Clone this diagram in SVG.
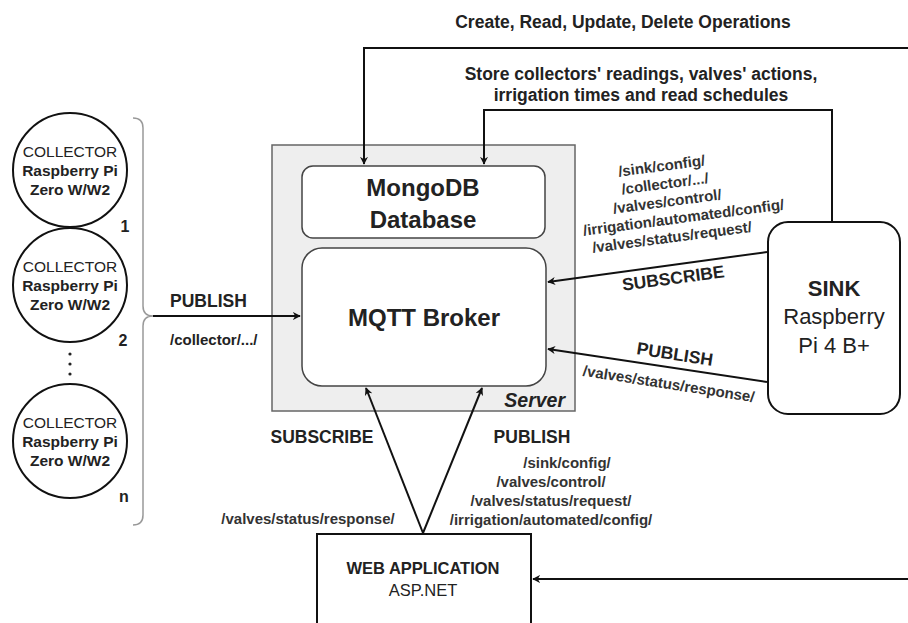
<svg xmlns="http://www.w3.org/2000/svg" width="908" height="623" viewBox="0 0 908 623">
<defs>
<marker id="ah" viewBox="0 0 10 10" refX="9" refY="5" markerWidth="8" markerHeight="8" markerUnits="userSpaceOnUse" orient="auto">
<path d="M0,0 L10,5 L0,10 L3,5 Z" fill="#111"/>
</marker>
<style>
text{font-family:"Liberation Sans",Arial,sans-serif;fill:#222}
.b{font-weight:bold}
.t{font-size:15px;font-weight:bold;fill:#333;text-anchor:middle}
.lb{font-size:17.5px;font-weight:bold;fill:#222}
.c{fill:#fff;stroke:#111;stroke-width:2}
.ct{font-size:15.5px;text-anchor:middle}
.conn{fill:none;stroke:#111;stroke-width:2;marker-end:url(#ah)}
</style>
</defs>
<rect width="908" height="623" fill="#fff"/>

<g id="server">
<rect x="272" y="145" width="303" height="266" fill="#eeeeee" stroke="#666" stroke-width="1.5"/>
<text x="565" y="407" font-size="19.5" class="b" font-style="italic" text-anchor="end">Server</text>
</g>
<g id="mongodb">
<rect x="302" y="166" width="243" height="72" rx="11" fill="#fff" stroke="#444" stroke-width="1.5"/>
<text x="423" y="196" font-size="24" class="b" text-anchor="middle">MongoDB</text>
<text x="423" y="228" font-size="24" class="b" text-anchor="middle">Database</text>
</g>
<g id="mqtt">
<rect x="302" y="248" width="244" height="138" rx="20" fill="#fff" stroke="#444" stroke-width="1.5"/>
<text x="424" y="326" font-size="24" class="b" text-anchor="middle">MQTT Broker</text>
</g>

<g id="collector1">
<circle cx="70" cy="170" r="57" class="c"/>
<text x="70" y="157" class="ct" fill="#333">COLLECTOR</text>
<text x="70" y="176" class="ct b">Raspberry Pi</text>
<text x="70" y="195" class="ct b">Zero W/W2</text>
<text x="125" y="232" font-size="16" class="b" text-anchor="middle">1</text>
</g>
<g id="collector2">
<circle cx="70" cy="285" r="57" class="c"/>
<text x="70" y="272" class="ct" fill="#333">COLLECTOR</text>
<text x="70" y="291" class="ct b">Raspberry Pi</text>
<text x="70" y="310" class="ct b">Zero W/W2</text>
<text x="123" y="346" font-size="16" class="b" text-anchor="middle">2</text>
</g>
<g id="dots" fill="#222">
<circle cx="70" cy="354" r="1.6"/>
<circle cx="70" cy="364" r="1.6"/>
<circle cx="70" cy="374" r="1.6"/>
</g>
<g id="collectorn">
<circle cx="70" cy="441" r="57" class="c"/>
<text x="70" y="428" class="ct" fill="#333">COLLECTOR</text>
<text x="70" y="447" class="ct b">Raspberry Pi</text>
<text x="70" y="466" class="ct b">Zero W/W2</text>
<text x="124" y="502" font-size="16" class="b" text-anchor="middle">n</text>
</g>
<g id="brace">
<path d="M133,118 Q143,118 143,128 L143,306 Q143,316 153,316 Q143,316 143,326 L143,515 Q143,525 133,525" fill="none" stroke="#999" stroke-width="1.5"/>
</g>

<g id="sink">
<rect x="768" y="222" width="132" height="192" rx="20" fill="#fff" stroke="#111" stroke-width="2"/>
<text x="834" y="296" font-size="22" class="b" text-anchor="middle">SINK</text>
<text x="834" y="324" font-size="22" text-anchor="middle" fill="#444">Raspberry</text>
<text x="834" y="353" font-size="22" text-anchor="middle" fill="#444">Pi 4 B+</text>
</g>

<g id="webapp">
<rect x="317" y="534" width="214" height="100" fill="#fff" stroke="#111" stroke-width="2"/>
<text x="423" y="574" font-size="16.5" class="b" text-anchor="middle">WEB APPLICATION</text>
<text x="423" y="596" font-size="16.5" text-anchor="middle" fill="#555">ASP.NET</text>
</g>

<g id="connectors">
<path d="M908,48 L364,48 L364,164" class="conn"/>
<path d="M832,222 L832,110 L484,110 L484,164" class="conn"/>
<path d="M153,316 L300,316" class="conn"/>
<path d="M767,252 L548,282" class="conn"/>
<path d="M767,382 L548,349" class="conn"/>
<path d="M423,533 L366,388" class="conn"/>
<path d="M423,533 L482,388" class="conn"/>
<path d="M908,579 L533,579" class="conn"/>
</g>

<g id="labels">
<text x="623" y="28" font-size="17.5" class="b" text-anchor="middle">Create, Read, Update, Delete Operations</text>
<text x="641" y="80" font-size="17.5" class="b" text-anchor="middle">Store collectors' readings, valves' actions,</text>
<text x="641" y="101" font-size="17.5" class="b" text-anchor="middle">irrigation times and read schedules</text>

<text x="170" y="307" class="lb">PUBLISH</text>
<text x="170" y="345" font-size="15" class="b" fill="#333">/collector/.../</text>

<g transform="translate(680,206) rotate(-7.5)">
<text x="-13" y="-37" class="t">/sink/config/</text>
<text x="-12" y="-19" class="t">/collector/.../</text>
<text x="-12" y="-1" class="t">/valves/control/</text>
<text x="2" y="17" class="t">/irrigation/automated/config/</text>
<text x="-12" y="35" class="t">/valves/status/request/</text>
</g>
<text x="0" y="0" class="lb" text-anchor="middle" transform="translate(674,284) rotate(-7.5)">SUBSCRIBE</text>

<text x="0" y="0" class="lb" text-anchor="middle" transform="translate(674,360) rotate(8.8)">PUBLISH</text>
<text x="0" y="0" class="t" transform="translate(668,389) rotate(8.8)">/valves/status/response/</text>

<text x="322" y="443" class="lb" text-anchor="middle">SUBSCRIBE</text>
<text x="532" y="443" class="lb" text-anchor="middle">PUBLISH</text>
<text x="567" y="468" class="t">/sink/config/</text>
<text x="551" y="487" class="t">/valves/control/</text>
<text x="551" y="506" class="t">/valves/status/request/</text>
<text x="551" y="525" class="t">/irrigation/automated/config/</text>
<text x="308" y="524" class="t">/valves/status/response/</text>
</g>
</svg>
